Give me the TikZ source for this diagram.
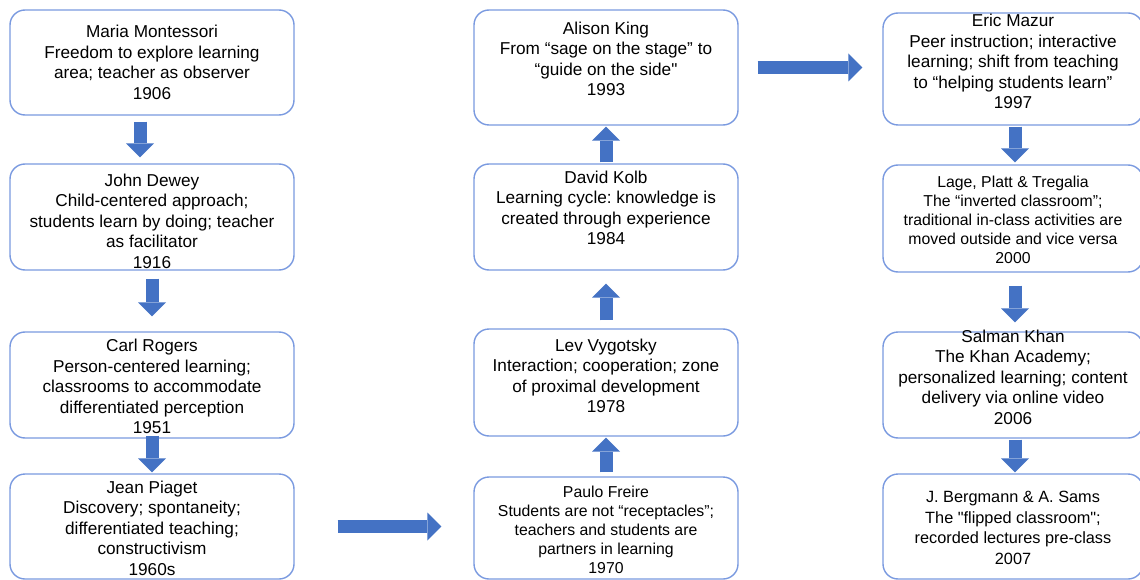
\documentclass[tikz,border=0pt]{standalone}
\usepackage{fontspec}
\setmainfont{Liberation Sans}[Ligatures=TeXOff]
\usetikzlibrary{arrows.meta,positioning}
\definecolor{cardline}{HTML}{7A9AE0}
\definecolor{arrowblue}{HTML}{4472C4}
\frenchspacing

\begin{document}
\begin{tikzpicture}[
    x=1pt, y=-1pt,
    card/.style={draw=cardline, line width=1.4pt, rounded corners=15pt},
    leftcol/.style={card, minimum width=284pt},
    midcol/.style={card, minimum width=264pt},
    rightcol/.style={card, minimum width=260pt},
    txt/.style={align=center, inner sep=0pt, font=\fontsize{17.2}{20.5}\selectfont},
    midtxt/.style={txt, font=\fontsize{16.3}{20.6}\selectfont},
    smalltxt/.style={txt, font=\fontsize{15.8}{19}\selectfont},
    block/.style={draw=arrowblue, line width=13pt, -{Triangle[width=28pt, length=14pt, line width=0pt]}}
  ]

  \path[use as bounding box, fill=white] (0,0) rectangle (1140,580);

  % Left column
  \node[leftcol, minimum height=105pt] (montessori) at (152,62.5) {};
  \node[leftcol, minimum height=106pt] (dewey) at (152,217) {};
  \node[leftcol, minimum height=106pt] (rogers) at (152,385) {};
  \node[leftcol, minimum height=105pt] (piaget) at (152,526.5) {};

  % Middle column
  \node[midcol, minimum height=115pt] (king) at (606,67.5) {};
  \node[midcol, minimum height=106pt] (kolb) at (606,217) {};
  \node[midcol, minimum height=107pt] (vygotsky) at (606,382.5) {};
  \node[midcol, minimum height=102pt] (freire) at (606,528) {};

  % Right column
  \node[rightcol, minimum height=112pt] (mazur) at (1013,69) {};
  \node[rightcol, minimum height=107pt] (lage) at (1013,218.5) {};
  \node[rightcol, minimum height=106pt] (khan) at (1013,385) {};
  \node[rightcol, minimum height=105pt] (bergmann) at (1013,526.5) {};

  % Connections
  \draw[block, shorten <=6pt, shorten >=6pt] ([xshift=-12pt]montessori.south) -- ([xshift=-12pt]dewey.north);
  \draw[block, shorten <=8pt, shorten >=15pt] (dewey) -- (rogers);
  \draw[block, shorten <=-3pt, shorten >=1pt] (rogers) -- (piaget);
  \draw[block, shorten <=43pt, shorten >=32pt] (piaget.east) -- (piaget.east -| freire.west);
  \draw[block, shorten <=4pt, shorten >=1pt] (freire) -- (vygotsky);
  \draw[block, shorten <=8pt, shorten >=13pt] (vygotsky) -- (kolb);
  \draw[block, shorten <=1pt, shorten >=1pt] (kolb) -- (king);
  \draw[block, shorten <=19pt, shorten >=20pt] (king.east) -- (king.east -| mazur.west);
  \draw[block, shorten <=1pt, shorten >=2pt] ([xshift=2pt]mazur.south) -- ([xshift=2pt]lage.north);
  \draw[block, shorten <=13pt, shorten >=9pt] ([xshift=2pt]lage.south) -- ([xshift=2pt]khan.north);
  \draw[block, shorten <=1pt, shorten >=1pt] ([xshift=2pt]khan.south) -- ([xshift=2pt]bergmann.north);

  % Texts
  \node[txt] (montessori_txt) at (montessori) {Maria Montessori\\Freedom to explore learning\\area; teacher as observer\\1906};
  \node[txt] (dewey_txt) at ([yshift=-4pt]dewey.center) {John Dewey\\Child-centered approach;\\students learn by doing; teacher\\as facilitator\\1916};
  \node[txt] (rogers_txt) at ([yshift=-1.5pt]rogers.center) {Carl Rogers\\Person-centered learning;\\classrooms to accommodate\\differentiated perception\\1951};
  \node[txt] (piaget_txt) at ([yshift=-1.5pt]piaget.center) {Jean Piaget\\Discovery; spontaneity;\\differentiated teaching;\\constructivism\\1960s};

  \node[txt] (king_txt) at ([yshift=8.5pt]king.center) {Alison King\\From “sage on the stage” to\\“guide on the side"\\1993};
  \node[txt] (kolb_txt) at ([yshift=9pt]kolb.center) {David Kolb\\Learning cycle: knowledge is\\created through experience\\1984};
  \node[txt] (vygotsky_txt) at ([yshift=6.5pt]vygotsky.center) {Lev Vygotsky\\Interaction; cooperation; zone\\of proximal development\\1978};
  \node[smalltxt] (freire_txt) at ([yshift=-2pt]freire.center) {Paulo Freire\\Students are not “receptacles”;\\teachers and students are\\partners in learning\\1970};

  \node[txt] (mazur_txt) at ([yshift=7.5pt]mazur.center) {Eric Mazur\\Peer instruction; interactive\\learning; shift from teaching\\to “helping students learn”\\1997};
  \node[smalltxt] (lage_txt) at ([yshift=-1pt]lage.center) {Lage, Platt \& Tregalia\\The “inverted classroom”;\\traditional in-class activities are\\moved outside and vice versa\\2000};
  \node[txt] (khan_txt) at ([yshift=8pt]khan.center) {Salman Khan\\The Khan Academy;\\personalized learning; content\\delivery via online video\\2006};
  \node[midtxt] (bergmann_txt) at ([yshift=-1.5pt]bergmann.center) {J. Bergmann \& A. Sams\\The "flipped classroom";\\recorded lectures pre-class\\2007};

\end{tikzpicture}
\end{document}
